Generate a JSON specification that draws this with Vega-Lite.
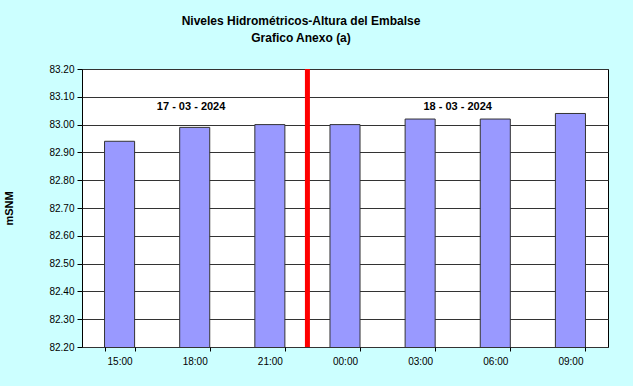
{
  "$schema": "https://vega.github.io/schema/vega-lite/v6.json",
  "width": 526,
  "height": 278,
  "autosize": {"type": "none"},
  "padding": {"left": 82, "top": 69, "right": 25, "bottom": 39},
  "background": "#CCFFFF",
  "title": {
    "text": ["Niveles Hidrométricos-Altura del Embalse", "Grafico Anexo (a)"],
    "font": "Liberation Sans",
    "fontSize": 12,
    "fontWeight": "bold",
    "color": "black",
    "anchor": "middle",
    "dx": -44,
    "offset": 19,
    "lineHeight": 17
  },
  "config": {
    "view": {"fill": "white", "stroke": "black", "strokeWidth": 1},
    "font": "Liberation Sans"
  },
  "data": {
    "values": [
      {"hora": "15:00", "nivel": 82.94},
      {"hora": "18:00", "nivel": 82.99},
      {"hora": "21:00", "nivel": 83.00},
      {"hora": "00:00", "nivel": 83.00},
      {"hora": "03:00", "nivel": 83.02},
      {"hora": "06:00", "nivel": 83.02},
      {"hora": "09:00", "nivel": 83.04}
    ]
  },
  "layer": [
    {
      "mark": {"type": "bar", "fill": "#9999FF", "stroke": "#333333", "strokeWidth": 1, "clip": true},
      "encoding": {
        "x": {
          "field": "hora",
          "type": "nominal",
          "sort": null,
          "scale": {"paddingInner": 0.6, "paddingOuter": 0.3},
          "axis": {
            "title": null,
            "labelAngle": 0,
            "labelFontSize": 10,
            "labelColor": "black",
            "labelPadding": 5,
            "tickBand": "extent",
            "tickColor": "black",
            "tickSize": 4,
            "domain": false,
            "grid": false
          }
        },
        "y": {
          "field": "nivel",
          "type": "quantitative",
          "scale": {"domain": [82.2, 83.2], "zero": false, "nice": false},
          "axis": {
            "title": "mSNM",
            "titleFontSize": 11,
            "titleFontWeight": "bold",
            "titleColor": "black",
            "titleX": -68,
            "values": [82.2, 82.3, 82.4, 82.5, 82.6, 82.7, 82.8, 82.9, 83.0, 83.1, 83.2],
            "format": ".2f",
            "labelOverlap": false,
            "labelFontSize": 10,
            "labelColor": "black",
            "labelPadding": 3,
            "tickColor": "black",
            "tickSize": 5,
            "domain": false,
            "grid": true,
            "gridColor": "#333333",
            "gridOpacity": 1
          }
        }
      }
    },
    {
      "data": {"values": [{"hora": "00:00"}]},
      "mark": {"type": "rule", "color": "#FF0000", "strokeWidth": 5},
      "encoding": {
        "x": {"field": "hora", "type": "nominal", "sort": null, "bandPosition": -0.75}
      }
    },
    {
      "data": {"values": [
        {"hora": "18:00", "nivel": 83.063, "fecha": "17 - 03 - 2024"}
      ]},
      "mark": {"type": "text", "fontSize": 11, "fontWeight": "bold", "color": "black", "baseline": "middle"},
      "encoding": {
        "x": {"field": "hora", "type": "nominal", "sort": null, "bandPosition": 0.38},
        "y": {
          "field": "nivel",
          "type": "quantitative",
          "axis": {
            "title": "mSNM",
            "titleFontSize": 11,
            "titleFontWeight": "bold",
            "titleColor": "black",
            "titleX": -68,
            "values": [82.2, 82.3, 82.4, 82.5, 82.6, 82.7, 82.8, 82.9, 83.0, 83.1, 83.2],
            "format": ".2f",
            "labelOverlap": false,
            "labelFontSize": 10,
            "labelColor": "black",
            "labelPadding": 3,
            "tickColor": "black",
            "tickSize": 5,
            "domain": false,
            "grid": true,
            "gridColor": "#333333",
            "gridOpacity": 1
          }
        },
        "text": {"field": "fecha"}
      }
    },
    {
      "data": {"values": [
        {"hora": "06:00", "nivel": 83.063, "fecha": "18 - 03 - 2024"}
      ]},
      "mark": {"type": "text", "fontSize": 11, "fontWeight": "bold", "color": "black", "baseline": "middle"},
      "encoding": {
        "x": {"field": "hora", "type": "nominal", "sort": null, "bandPosition": -0.75},
        "y": {
          "field": "nivel",
          "type": "quantitative",
          "axis": {
            "title": "mSNM",
            "titleFontSize": 11,
            "titleFontWeight": "bold",
            "titleColor": "black",
            "titleX": -68,
            "values": [82.2, 82.3, 82.4, 82.5, 82.6, 82.7, 82.8, 82.9, 83.0, 83.1, 83.2],
            "format": ".2f",
            "labelOverlap": false,
            "labelFontSize": 10,
            "labelColor": "black",
            "labelPadding": 3,
            "tickColor": "black",
            "tickSize": 5,
            "domain": false,
            "grid": true,
            "gridColor": "#333333",
            "gridOpacity": 1
          }
        },
        "text": {"field": "fecha"}
      }
    }
  ]
}
